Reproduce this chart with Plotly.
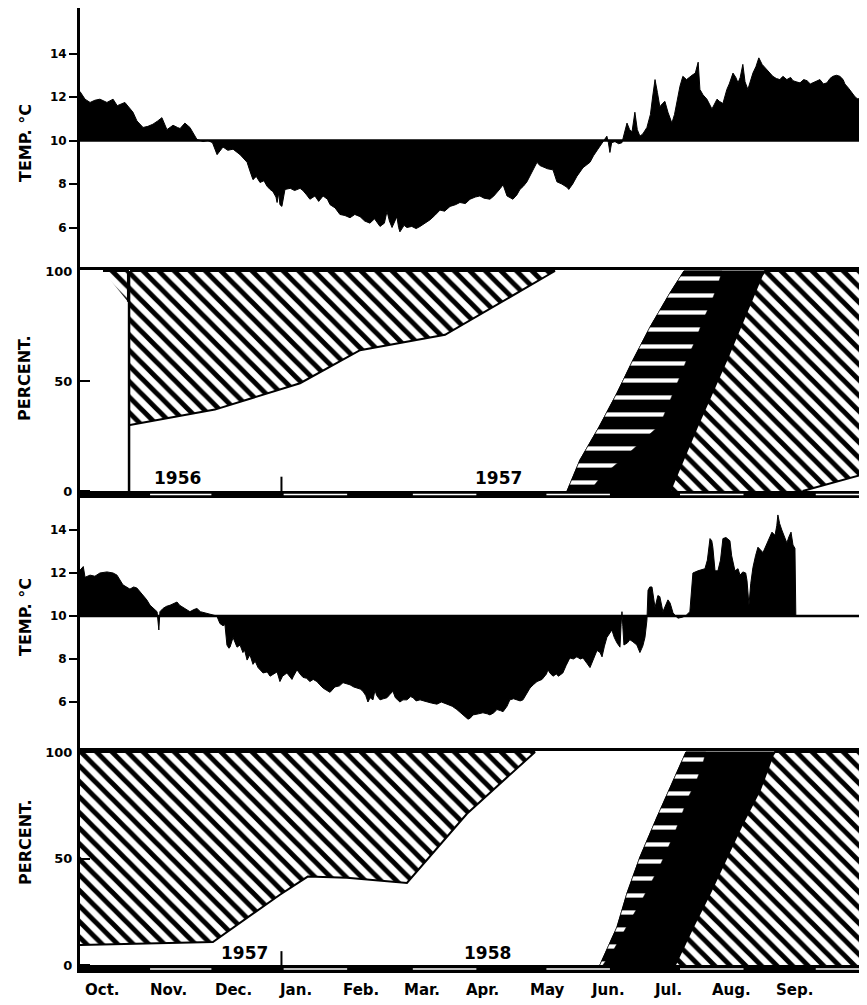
import plotly.graph_objects as go

# ------------------------------------------------------------------ data
# x = days from 1 October; temperatures in deg C; stages in percent
# --- 1956-57 temperature (panel 1)
days_t1 = [0, 2.3, 4.6, 6.8, 9.1, 12.3, 15.1, 17, 20.5, 22.8,
           24.2, 26.0, 28.8, 31, 33.3, 35.5, 37.4, 39.7, 42.5, 44.5,
           45.7, 47.9, 50.2, 53.4, 56.2, 58.4, 60.5, 62.6, 65.3, 67.5,
           69.9, 73.1, 74.5, 76.3, 77.6, 79.0, 80.5, 82.2, 84.0, 85.4,
           86.8, 88.1, 89.5, 90.0, 90.8, 91.3, 92.2, 93.0, 93.6, 96,
           98, 100.5, 101.8, 103.5, 105.0, 107.3, 109, 111.0, 113, 114.2,
           116.5, 118.7, 121, 123.3, 125.5, 127.9, 130, 132.4, 134.5, 137.0,
           139, 140.2, 141.3, 142.5, 143.5, 144.7, 145.5, 146.1, 148, 149.3,
           151.5, 153.5, 155.3, 157.5, 159.8, 162, 164.4, 166.5, 169.0, 171.5,
           173.5, 176, 178.1, 180.5, 182.6, 184.5, 187.2, 189, 190.4, 192,
           193.2, 195.0, 197.7, 199.5, 200.9, 202.5, 204.1, 206, 208.7, 210.0,
           211.4, 213.5, 216.0, 217.8, 220, 222.4, 223.2, 225, 226.9, 229.7,
           232.9, 234.5, 236.5, 238.5, 240.6, 241.3, 242.0, 242.8, 244.3, 246,
           247.5, 248.5, 249.8, 251, 252.1, 253.4, 254.5, 255.7, 257, 258.9,
           260.5, 261.5, 262.6, 263.7, 264.8, 266, 267.1, 268.5, 270.3, 271.5,
           272.6, 274, 275.3, 277, 279.5, 281, 282.3, 283.1, 284.5, 286.3,
           288.6, 290.9, 292, 293.6, 295.4, 296.5, 298.2, 299.5, 300.5, 301.5,
           302.7, 303.7, 305.0, 307.3, 308.7, 310.0, 311.5, 313.7, 316.4, 318,
           319.6, 321, 322.8, 324.5, 325.6, 327, 328.8, 330.5, 332.0, 333.5,
           334.7, 336.5, 337.9, 339.5, 341.1, 342.5, 343.8, 345.5, 347.0, 348.5,
           349.3, 351, 352.5, 354, 355.3, 357, 358.4, 359.4]
temp_t1 = [12.25, 11.9, 11.75, 11.85, 11.9, 11.75, 11.9, 11.6, 11.75, 11.5,
           11.3, 10.9, 10.6, 10.65, 10.75, 10.9, 11.05, 10.5, 10.7, 10.6,
           10.55, 10.8, 10.6, 10.05, 9.95, 10.0, 9.9, 9.35, 9.7, 9.55,
           9.6, 9.35, 9.2, 9.0, 8.6, 8.2, 8.35, 8.07, 8.15, 7.9,
           7.75, 7.65, 7.4, 7.15, 7.6, 7.05, 6.97, 7.5, 7.75, 7.8,
           7.7, 7.8, 7.7, 7.5, 7.3, 7.45, 7.2, 7.45, 7.3, 7.05,
           6.9, 6.6, 6.55, 6.45, 6.6, 6.5, 6.3, 6.2, 6.4, 6.05,
           6.2, 6.75, 6.3, 6.0, 6.2, 6.5, 6.0, 5.8, 6.1, 6.0,
           6.05, 5.95, 6.05, 6.2, 6.35, 6.55, 6.8, 6.75, 6.97, 7.05,
           7.15, 7.1, 7.3, 7.4, 7.45, 7.35, 7.3, 7.45, 7.6, 7.8,
           7.97, 7.45, 7.3, 7.5, 7.75, 7.9, 8.1, 8.5, 9.0, 8.85,
           8.8, 8.7, 8.65, 8.1, 8.0, 7.85, 7.75, 8.0, 8.35, 8.75,
           9.0, 9.3, 9.6, 9.9, 10.2, 9.9, 9.45, 9.9, 9.95, 9.85,
           9.9, 10.3, 10.8, 10.5, 10.4, 11.3, 10.5, 10.2, 10.3, 10.6,
           11.2, 12.0, 12.8, 12.2, 11.55, 11.7, 11.8, 11.3, 10.8, 11.2,
           11.8, 12.5, 12.95, 12.8, 13.0, 13.1, 13.6, 12.35, 12.1, 11.9,
           11.45, 11.9, 11.8, 11.7, 12.35, 12.6, 13.1, 12.9, 12.65, 12.9,
           13.5, 12.7, 12.35, 13.1, 13.4, 13.8, 13.5, 13.25, 12.95, 12.85,
           12.8, 12.95, 12.8, 12.9, 12.75, 12.7, 12.65, 12.8, 12.75, 12.6,
           12.65, 12.75, 12.8, 12.6, 12.65, 12.85, 12.95, 13.0, 12.95, 12.8,
           12.6, 12.4, 12.2, 12.0, 11.9, 12.05, 12.0, 11.9]

# --- 1957-58 temperature (panel 3)
days_t2 = [0, 1.5, 2.3, 4.6, 6.8, 9.1, 12.3, 15.1, 16.9, 19.6,
           22.8, 24.5, 26.0, 28.8, 30.5, 32.0, 34, 35.2, 36.0, 36.5,
           37.9, 39.5, 41.1, 43, 44.3, 45.5, 47.0, 48.5, 50.2, 52,
           53.4, 55, 57.1, 59, 60.7, 62.5, 63.9, 65.3, 66.2, 67.1,
           68.0, 68.5, 69.9, 70.8, 71.7, 73.1, 74.4, 75.2, 76.3, 77.6,
           79.0, 80, 81.3, 83.6, 85.5, 86.8, 88.5, 90.0, 91.3, 92.5,
           94.5, 96.8, 97.5, 99.1, 100.5, 101.8, 103.5, 105.0, 106.5, 108.2,
           109.5, 111.0, 112.5, 114.2, 116.4, 118.5, 120.1, 121.5, 123.3, 125,
           126.5, 128, 129.2, 130.5, 131.5, 132.5, 133.8, 134.7, 135.5, 137.0,
           138.5, 140.2, 141.5, 142.9, 144, 146.1, 147.5, 149.3, 151, 152.1,
           153.5, 155.3, 157, 158.4, 160.5, 163.0, 165, 167.6, 170, 172.1,
           174.9, 176, 177.2, 178.2, 179.5, 182, 184.0, 186, 187.2, 189,
           190.4, 192, 193.2, 195, 196.3, 198, 199.5, 201, 202.3, 204,
           205.5, 207, 208.7, 211.0, 213, 213.7, 214.6, 216.0, 217.5, 218.5,
           220.5, 222, 223.7, 225.3, 226.9, 228.5, 229.7, 231.5, 232.9, 234.5,
           236.1, 237.5, 238.4, 239.5, 240.6, 242.9, 244, 245.2, 246.6, 247.1,
           247.5, 247.9, 248.4, 250, 251.1, 252.5, 254.3, 255.7, 257, 258.0,
           258.9, 259.4, 260.2, 261.2, 262.6, 263.9, 264.8, 266.2, 267.5, 268.5,
           269.5, 270.8, 272, 273.1, 275.3, 277, 278.5, 279.5, 279.9, 282.2,
           284, 285.4, 286.5, 287.3, 287.7, 288.5, 289.0, 290.0, 291.3, 292.5,
           293.6, 295, 296.8, 297.6, 299.1, 300.5, 301.4, 302.7, 304.0, 304.6,
           305.5, 306.3, 307.3, 308.5, 309.6, 311.9, 313, 314.2, 316.0, 317.4,
           318.2, 318.7, 319.5, 320.5, 321.5, 322.8, 323.8, 324.7, 325.6, 326.5, 326.9]
temp_t2 = [12.13, 12.3, 11.8, 11.9, 11.85, 12.0, 12.05, 12.0, 11.9, 11.45,
           11.25, 11.35, 11.3, 10.95, 10.75, 10.5, 10.3, 10.2, 9.35, 10.2,
           10.35, 10.45, 10.5, 10.6, 10.65, 10.5, 10.4, 10.3, 10.2, 10.3,
           10.35, 10.2, 10.15, 10.1, 10.05, 10.0, 9.65, 9.55, 9.6, 8.65,
           8.5, 8.55, 9.0, 8.8, 8.55, 8.65, 8.3, 8.4, 7.95, 8.2,
           7.75, 7.9, 7.6, 7.35, 7.4, 7.2, 7.3, 7.4, 6.95, 7.2,
           7.35, 7.05, 7.2, 7.5, 7.3, 7.15, 7.1, 6.95, 7.05, 6.95,
           6.8, 6.65, 6.55, 6.45, 6.7, 6.75, 6.9, 6.85, 6.8, 6.7,
           6.65, 6.6, 6.5, 6.3, 6.0, 6.2, 6.1, 6.55, 6.3, 6.1,
           6.15, 6.2, 6.35, 6.5, 6.2, 6.0, 6.1, 6.1, 6.25, 6.2,
           6.05, 6.1, 6.05, 6.0, 5.95, 5.9, 6.0, 5.9, 5.8, 5.65,
           5.4, 5.3, 5.2, 5.25, 5.4, 5.45, 5.5, 5.45, 5.4, 5.5,
           5.65, 5.6, 5.55, 5.8, 6.1, 6.15, 6.1, 6.05, 6.1, 6.4,
           6.65, 6.8, 6.95, 7.05, 7.3, 7.5, 7.35, 7.2, 7.3, 7.2,
           7.35, 7.7, 8.05, 8.0, 8.1, 8.0, 8.05, 7.8, 7.6, 8.0,
           8.4, 8.3, 8.1, 8.6, 9.0, 9.35, 9.0, 8.75, 8.55, 9.6,
           10.2, 9.5, 8.65, 8.75, 8.9, 8.8, 8.65, 8.3, 8.6, 9.0,
           9.8, 11.2, 11.35, 11.35, 10.4, 10.95, 10.9, 10.2, 10.5, 10.75,
           10.6, 10.15, 10.0, 9.9, 9.95, 10.05, 10.2, 11.5, 12.0, 12.1,
           12.15, 12.2, 12.6, 13.4, 13.6, 13.5, 13.2, 12.1, 12.1, 12.6,
           13.6, 13.65, 13.5, 12.8, 12.1, 12.2, 11.9, 12.05, 12.0, 11.65,
           10.5, 11.5, 12.25, 12.8, 13.2, 12.95, 13.2, 13.5, 13.9, 13.75,
           14.2, 14.7, 14.3, 14.0, 13.7, 13.4, 13.7, 13.9, 13.3, 13.15, 10.0]

REF_TEMP = 10.0

# --- 1956-57 stages (panel 2)
s1_winter_day = [22.8, 61.6, 100.5, 127.9, 166.7, 216.9]
s1_winter_pct = [30, 37, 49, 64, 71, 100]
s1_early_day = [10.5, 21.9, 21.9]
s1_early_pct = [100, 100, 86]
s1_divider_day = [22.4, 22.4]
s1_divider_pct = [0, 100]
s1_black_left_day = [222.4, 228.3, 237.0, 245.2, 252.5, 260.3, 269.4, 274.9, 275.8]
s1_black_left_pct = [0, 14.1, 29.1, 44.5, 59.5, 74.5, 90, 99.1, 100]
s1_dash_right_day = [232.9, 237.4, 247.0, 255.7, 264.8, 268.0, 271.2, 274.4,
                     277.6, 281.3, 284.5, 288.1, 291.3, 293.2]
s1_dash_right_pct = [0, 5.9, 14, 21.8, 30, 37.7, 45.5, 53, 61, 69, 77.7, 85.5, 93.6, 100]
s1_summer_left_day = [269.4, 281.7, 295.4, 304.6, 311.4, 312.8]
s1_summer_left_pct = [0, 29, 60, 82, 98, 100]
s1_summer_low_day = [330, 359.4]
s1_summer_low_pct = [0, 8]

# --- 1957-58 stages (panel 4)
s2_winter_day = [0, 60.7, 91.3, 100.5, 104, 121.9, 149.3, 176.7, 207.8]
s2_winter_pct = [9.4, 10.8, 33, 39, 41.5, 41, 38.5, 71, 100]
s2_black_left_day = [237.4, 245.2, 249.8, 255.7, 263.5, 270.3, 276.3, 276.7]
s2_black_left_pct = [0, 17.8, 33.8, 50.7, 69.5, 85.4, 99.5, 100]
s2_dash_right_day = [238.8, 243.4, 247.9, 252.1, 256.6, 260.7, 264.8, 268.5,
                     271.7, 274.9, 277.6, 281.3, 284.5, 285.8]
s2_dash_right_pct = [0, 6.6, 14.6, 22.5, 30.5, 38.5, 46.5, 54.9, 62.4, 70.9,
                     78.4, 85.9, 94.8, 100]
s2_summer_left_day = [271.7, 279.9, 287.7, 295.4, 302.7, 310.5, 316.4, 317.4]
s2_summer_left_pct = [0, 17.8, 33.8, 50.7, 66.7, 82.2, 98.6, 100]

# --- calendar / labels
month_names = ["Oct.", "Nov.", "Dec.", "Jan.", "Feb.", "Mar.", "Apr.", "May",
               "Jun.", "Jul.", "Aug.", "Sep."]
month_start = [0, 31, 61, 92, 123, 151, 182, 212, 243, 273, 304, 335, 365]
month_label_pos = [10.5, 40.2, 69.9, 98.6, 128.3, 156.2, 184.0, 213.7, 241.1,
                   268.5, 297.7, 326.5]
temp_ticks = [6, 8, 10, 12, 14]
pct_ticks = [0, 50, 100]

# ------------------------------------------------------------------ figure
# the page body has an 8px margin, so the figure is sized to end at the window edge
OFF = 8
W, H = 867 - OFF, 1005 - OFF
LEFT = 80 - OFF
X_MAX = 359.4
FONT = "DejaVu Sans, Liberation Sans, Arial, sans-serif"


def py(px):
    """page pixel row -> paper y"""
    return 1 - (px - OFF) / H


def px_x(px):
    """page pixel column -> paper x"""
    return (px - 80) / (W - LEFT)


fig = go.Figure()

HATCH = dict(shape="\\", fgcolor="black", bgcolor="white", size=11, solidity=0.45,
             fillmode="replace", fgopacity=1)
DASH = dict(shape="-", fgcolor="white", bgcolor="black", size=17, solidity=0.25,
            fillmode="replace", fgopacity=1)


def temp_panel(days, temps, xa, ya):
    fig.add_trace(go.Scatter(x=[0, X_MAX], y=[REF_TEMP, REF_TEMP], mode="lines",
                             line=dict(color="black", width=2.5),
                             xaxis=xa, yaxis=ya, hoverinfo="skip"))
    fig.add_trace(go.Scatter(x=days, y=temps, mode="lines", fill="tonexty",
                             fillcolor="black", line=dict(color="black", width=1),
                             xaxis=xa, yaxis=ya))


def poly(xs, ys, xa, ya, pattern=None, color="black", lw=2):
    kw = {}
    if pattern is not None:
        kw["fillpattern"] = pattern
        kw["fillcolor"] = pattern["bgcolor"]
    else:
        kw["fillcolor"] = color
    fig.add_trace(go.Scatter(x=xs, y=ys, mode="lines", fill="toself",
                             line=dict(color="black", width=lw),
                             xaxis=xa, yaxis=ya, hoverinfo="skip", **kw))


temp_panel(days_t1, temp_t1, "x", "y")
temp_panel(days_t2, temp_t2, "x3", "y3")

# empty traces so the right-hand tick axes are rendered
fig.add_trace(go.Scatter(x=[], y=[], xaxis="x", yaxis="y5", showlegend=False))
fig.add_trace(go.Scatter(x=[], y=[], xaxis="x3", yaxis="y6", showlegend=False))

# panel 2 stages
poly(s1_winter_day + [s1_winter_day[0]], s1_winter_pct + [100], "x2", "y2", HATCH)
poly(s1_early_day, s1_early_pct, "x2", "y2", HATCH)
fig.add_trace(go.Scatter(x=s1_divider_day, y=s1_divider_pct, mode="lines",
                         line=dict(color="black", width=2.5), xaxis="x2", yaxis="y2"))
poly(s1_black_left_day + s1_summer_left_day[::-1],
     s1_black_left_pct + s1_summer_left_pct[::-1], "x2", "y2", None, "black", 1)
poly(s1_black_left_day + s1_dash_right_day[::-1],
     s1_black_left_pct + s1_dash_right_pct[::-1], "x2", "y2", DASH, lw=0.5)
poly(s1_summer_left_day + [X_MAX] + s1_summer_low_day[::-1],
     s1_summer_left_pct + [100] + s1_summer_low_pct[::-1], "x2", "y2", HATCH)

# panel 4 stages
poly(s2_winter_day + [s2_winter_day[0]], s2_winter_pct + [100], "x4", "y4", HATCH)
poly(s2_black_left_day + s2_summer_left_day[::-1],
     s2_black_left_pct + s2_summer_left_pct[::-1], "x4", "y4", None, "black", 1)
poly(s2_black_left_day + s2_dash_right_day[::-1],
     s2_black_left_pct + s2_dash_right_pct[::-1], "x4", "y4", DASH, lw=0.5)
poly(s2_summer_left_day + [X_MAX, X_MAX],
     s2_summer_left_pct + [100, 0], "x4", "y4", HATCH)

# ------------------------------------------------------------------ axes
tick_font = dict(family=FONT, size=12, color="black", weight="bold")
pct_font = dict(family=FONT, size=13, color="black", weight="bold")

base_x = dict(range=[0, X_MAX], domain=[0, 1], showgrid=False, zeroline=False,
              showticklabels=False, ticks="", linecolor="black", automargin=False)
fig.update_layout(
    xaxis=dict(base_x, anchor="y", side="top", showline=True, linewidth=2),
    xaxis2=dict(base_x, anchor="y2", side="top", showline=True, linewidth=3, matches="x"),
    xaxis3=dict(base_x, anchor="y3", showline=False, matches="x"),
    xaxis4=dict(base_x, anchor="y4", side="top", showline=True, linewidth=3, matches="x"),
)

base_y = dict(showgrid=False, zeroline=False, showline=True, linewidth=3,
              linecolor="black", tickcolor="black", tickwidth=2, automargin=False)
right_y = dict(side="right", tickvals=temp_ticks, ticks="inside", ticklen=6, tickwidth=2,
               tickcolor="black", showticklabels=False, showgrid=False,
               zeroline=False, showline=False, automargin=False)
fig.update_layout(
    yaxis=dict(base_y, anchor="x", domain=[py(270), py(8)], range=[4.046, 16.092],
               tickvals=temp_ticks, ticks="outside", ticklen=8, tickfont=tick_font),
    yaxis2=dict(base_y, anchor="x2", domain=[py(498), py(270)], range=[-3.18, 100.45],
                tickvals=pct_ticks, ticks="inside", ticklen=10, tickfont=pct_font,
                ticklabelstandoff=2),
    yaxis3=dict(base_y, anchor="x3", domain=[py(751), py(498)], range=[3.721, 15.488],
                tickvals=temp_ticks, ticks="outside", ticklen=8, tickfont=tick_font),
    yaxis4=dict(base_y, anchor="x4", domain=[py(973), py(751)], range=[-3.756, 100.47],
                tickvals=pct_ticks, ticks="inside", ticklen=10, tickfont=pct_font,
                ticklabelstandoff=2),
    yaxis5=dict(right_y, overlaying="y", anchor="x", range=[4.046, 16.092]),
    yaxis6=dict(right_y, overlaying="y3", anchor="x3", range=[3.721, 15.488]),
)

# ------------------------------------------------------------------ month bars
shapes = []
for xa, ya, lo in (("x2", "y2", -3.18), ("x4", "y4", -3.756)):
    shapes.append(dict(type="rect", xref=xa, yref=ya, x0=0, x1=X_MAX, y0=lo, y1=0,
                       fillcolor="black", line=dict(width=0), layer="above"))
    for i in range(1, 12, 2):
        shapes.append(dict(type="line", xref=xa, yref=ya,
                           x0=month_start[i] + 1, x1=min(month_start[i + 1] - 1, X_MAX),
                           y0=lo / 2, y1=lo / 2,
                           line=dict(color="white", width=1.6), layer="above"))
    # 1 January marker
    shapes.append(dict(type="line", xref=xa, yref=ya, x0=month_start[3], x1=month_start[3],
                       y0=0, y1=6.5, line=dict(color="black", width=2), layer="above"))

# ------------------------------------------------------------------ text
ann = []
title_font = dict(family=FONT, size=16, color="black", weight="bold")
for text, ypx in (("TEMP. °C", 143), ("PERCENT.", 378), ("TEMP. °C", 617), ("PERCENT.", 842)):
    ann.append(dict(text=text, xref="paper", yref="paper", x=px_x(25), y=py(ypx),
                    textangle=-90, showarrow=False, font=title_font,
                    xanchor="center", yanchor="middle"))
year_font = dict(family=FONT, size=17, color="black", weight="bold")
for text, xa, ya, xd, yd in (("1956", "x2", "y2", 44.3, 5.9), ("1957", "x2", "y2", 190.9, 5.9),
                             ("1957", "x4", "y4", 75.3, 5.6), ("1958", "x4", "y4", 186.3, 5.6)):
    ann.append(dict(text=text, xref=xa, yref=ya, x=xd, y=yd, showarrow=False,
                    font=year_font, xanchor="center", yanchor="middle"))
month_font = dict(family=FONT, size=15, color="black", weight="bold")
for name, pos in zip(month_names, month_label_pos):
    ann.append(dict(text=name, xref="x4", yref="paper", x=pos, y=py(990),
                    showarrow=False, font=month_font, xanchor="center", yanchor="middle"))

fig.update_layout(template="none", width=W, height=H,
                  margin=dict(l=LEFT, r=0, t=0, b=0, autoexpand=False),
                  paper_bgcolor="white", plot_bgcolor="white", showlegend=False,
                  shapes=shapes, annotations=ann)

fig.write_html("out.html")
